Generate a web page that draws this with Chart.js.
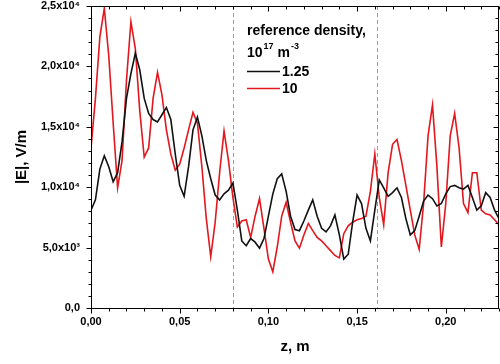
<!DOCTYPE html>
<html>
<head>
<meta charset="utf-8">
<script src="https://cdn.jsdelivr.net/npm/chart.js@4/dist/chart.umd.min.js"></script>
<style>
  html, body { margin: 0; padding: 0; background: #fff; }
</style>
</head>
<body>
<canvas id="chart" width="500" height="364"></canvas>
<script>
// z positions along the axis (m)
const zValues = [
  0.0000, 0.0025, 0.0050, 0.0075, 0.0100, 0.0125, 0.0150, 0.0175, 0.0200, 0.0225,
  0.0250, 0.0275, 0.0300, 0.0325, 0.0350, 0.0375, 0.0400, 0.0425, 0.0450, 0.0475,
  0.0500, 0.0525, 0.0550, 0.0575, 0.0600, 0.0625, 0.0650, 0.0675, 0.0700, 0.0725,
  0.0750, 0.0775, 0.0800, 0.0825, 0.0850, 0.0875, 0.0900, 0.0925, 0.0950, 0.0975,
  0.1000, 0.1025, 0.1050, 0.1075, 0.1100, 0.1125, 0.1150, 0.1175, 0.1200, 0.1225,
  0.1250, 0.1275, 0.1300, 0.1325, 0.1350, 0.1375, 0.1400, 0.1425, 0.1450, 0.1475,
  0.1500, 0.1525, 0.1550, 0.1575, 0.1600, 0.1625, 0.1650, 0.1675, 0.1700, 0.1725,
  0.1750, 0.1775, 0.1800, 0.1825, 0.1850, 0.1875, 0.1900, 0.1925, 0.1950, 0.1975,
  0.2000, 0.2025, 0.2050, 0.2075, 0.2100, 0.2125, 0.2150, 0.2175, 0.2200, 0.2225,
  0.2250, 0.2275, 0.2300
];

// |E| (V/m), reference density 1.25e17 m^-3
const eLow = [
  8100, 8950, 11500, 12600, 11700, 10450, 11200, 13750, 17350, 19400,
  21100, 19700, 17350, 16100, 15600, 15400, 16000, 16600, 15600, 12750,
  10150, 9250, 11700, 14750, 15800, 14250, 12200, 10700, 9350, 8950,
  9450, 9750, 10350, 8100, 5550, 5150, 5750, 5450, 4950, 5750,
  7600, 9450, 10700, 11100, 9650, 7600, 6500, 6400, 7200, 8100,
  8950, 7600, 6600, 6300, 6800, 7700, 6050, 4050, 4450, 7100,
  9350, 8650, 6600, 5550, 8100, 10600, 9950, 9250, 9550, 9950,
  9150, 7400, 6050, 6400, 7600, 8850, 9350, 9050, 8450, 8650,
  9450, 10050, 10150, 9950, 9850, 10150, 9150, 8100, 8450, 9550,
  9150, 8100, 7400
];

// |E| (V/m), reference density 10e17 m^-3
const eHigh = [
  13250, 17350, 22450, 24800, 20900, 15300, 9950, 12200, 18850, 23700,
  21450, 16300, 12500, 13250, 17350, 19500, 17650, 14750, 12750, 11400,
  11900, 13250, 14750, 16200, 15300, 11700, 7400, 4250, 7100, 11200,
  14650, 12200, 9150, 6700, 7200, 7300, 5850, 7600, 9050, 6600,
  4050, 3000, 5050, 7600, 8750, 7100, 5550, 4950, 6050, 7000,
  6400, 5850, 5550, 5150, 4750, 4350, 4150, 6150, 6800, 7100,
  7300, 7400, 7600, 9650, 12750, 9150, 6900, 11200, 13550, 13950,
  12200, 10150, 8100, 6050, 4850, 8650, 14250, 16800, 11700, 5050,
  8650, 14250, 16100, 13250, 8650, 7900, 11200, 11200, 8100, 7800,
  7700, 7300, 6900
];

const seriesLabels = ['1.25', '10'];
const seriesColors = ['#111111', '#e3171d'];
const markerZ = [0.08, 0.161];   // dashed verticals

const fontFamily = '"Liberation Sans", Arial, sans-serif';

// y tick text like 2,5x10⁴
function yLabel(v) {
  if (v === 0) return '0,0';
  const exp = Math.floor(Math.log10(v));
  const sup = {3: '³', 4: '⁴'}[exp];
  return (v / Math.pow(10, exp)).toFixed(1).replace('.', ',') + 'x10' + sup;
}

const frameAndLegend = {
  id: 'frameAndLegend',
  beforeDatasetsDraw(chart) {
    const {ctx, chartArea: a, scales: {x}} = chart;
    ctx.save();
    ctx.strokeStyle = '#ec8a2e';
    ctx.lineWidth = 1;
    ctx.setLineDash([4, 3]);
    markerZ.forEach(z => {
      const px = Math.round(x.getPixelForValue(z)) + 0.5;
      ctx.beginPath();
      ctx.moveTo(px, a.top);
      ctx.lineTo(px, a.bottom);
      ctx.stroke();
    });
    ctx.restore();
  },
  afterDraw(chart) {
    const {ctx, chartArea: a, scales: {x, y}} = chart;
    ctx.save();
    ctx.strokeStyle = '#000';
    ctx.lineWidth = 1;
    const L = Math.round(a.left) + 0.5, R = Math.round(a.right) - 0.5;
    const T = Math.round(a.top) + 0.5, B = Math.round(a.bottom) + 0.5;
    ctx.strokeRect(L, T, R - L, B - T);

    // y ticks: major every 5000, minor every 1000
    ctx.beginPath();
    for (let v = 0; v <= 25000; v += 1000) {
      const py = Math.round(y.getPixelForValue(v)) + 0.5;
      const len = v % 5000 === 0 ? 5 : 3;
      ctx.moveTo(L - len, py); ctx.lineTo(L, py);
      ctx.moveTo(R, py); ctx.lineTo(R - len, py);
    }
    // x ticks: major every 0.05, minor every 0.01
    for (let i = 0; i <= 23; i++) {
      const px = Math.round(x.getPixelForValue(i / 100)) + 0.5;
      const len = i % 5 === 0 ? 5 : 3;
      ctx.moveTo(px, B); ctx.lineTo(px, B + len);
      ctx.moveTo(px, T); ctx.lineTo(px, T + len);
    }
    ctx.stroke();

    // legend
    const lx = 247;
    ctx.fillStyle = '#000';
    ctx.textBaseline = 'middle';
    ctx.textAlign = 'left';
    ctx.font = 'bold 14px ' + fontFamily;
    ctx.fillText('reference density,', lx, 31);
    let cx = lx;
    ctx.fillText('10', cx, 53);
    cx += ctx.measureText('10').width;
    ctx.font = 'bold 9px ' + fontFamily;
    ctx.fillText('17', cx + 1, 47);
    cx += ctx.measureText('17').width + 1;
    ctx.font = 'bold 14px ' + fontFamily;
    ctx.fillText(' m', cx, 53);
    cx += ctx.measureText(' m').width;
    ctx.font = 'bold 9px ' + fontFamily;
    ctx.fillText('-3', cx + 1, 47);

    ctx.font = 'bold 14px ' + fontFamily;
    chart.data.datasets.forEach((ds, i) => {
      const ly = 71 + i * 17;
      ctx.strokeStyle = ds.borderColor;
      ctx.lineWidth = 1.6;
      ctx.beginPath();
      ctx.moveTo(lx, ly + 0.5);
      ctx.lineTo(lx + 33, ly + 0.5);
      ctx.stroke();
      ctx.fillText(ds.label, lx + 35, ly + 1);
    });
    ctx.restore();
  }
};

const ctx = document.getElementById('chart').getContext('2d');
new Chart(ctx, {
  type: 'line',
  data: {
    datasets: [
      {
        label: seriesLabels[0],
        data: zValues.map((z, i) => ({x: z, y: eLow[i]})),
        borderColor: seriesColors[0],
        borderWidth: 1.6,
        pointRadius: 0,
        tension: 0
      },
      {
        label: seriesLabels[1],
        data: zValues.map((z, i) => ({x: z, y: eHigh[i]})),
        borderColor: seriesColors[1],
        borderWidth: 1.6,
        pointRadius: 0,
        tension: 0
      }
    ]
  },
  options: {
    responsive: false,
    animation: false,
    devicePixelRatio: 1,
    layout: { padding: { top: 6, right: 1, left: 0, bottom: 0 } },
    plugins: {
      legend: { display: false },
      tooltip: { enabled: false }
    },
    scales: {
      x: {
        type: 'linear',
        min: 0,
        max: 0.23,
        grid: { display: false, drawTicks: false },
        border: { display: false },
        ticks: {
          stepSize: 0.05,
          includeBounds: false,
          padding: 7,
          maxRotation: 0,
          color: '#000',
          font: { family: fontFamily, size: 11, weight: 'bold' },
          callback: v => v.toFixed(2).replace('.', ',')
        },
        title: {
          display: true,
          text: 'z, m',
          color: '#000',
          font: { family: fontFamily, size: 15, weight: 'bold' },
          padding: { top: 0, bottom: 8 }
        },
        afterFit: s => { s.height = 56; s.paddingLeft = 0; s.paddingRight = 0; }
      },
      y: {
        min: 0,
        max: 25000,
        grid: { display: false, drawTicks: false },
        border: { display: false },
        ticks: {
          stepSize: 5000,
          padding: 11,
          color: '#000',
          font: { family: fontFamily, size: 11, weight: 'bold' },
          callback: v => yLabel(v)
        },
        title: {
          display: true,
          text: '|E|, V/m',
          color: '#000',
          font: { family: fontFamily, size: 15, weight: 'bold' },
          padding: { top: 13, bottom: 0 }
        },
        afterFit: s => { s.width = 91; s.paddingTop = 0; s.paddingBottom = 0; }
      }
    }
  },
  plugins: [frameAndLegend]
});
</script>
</body>
</html>
